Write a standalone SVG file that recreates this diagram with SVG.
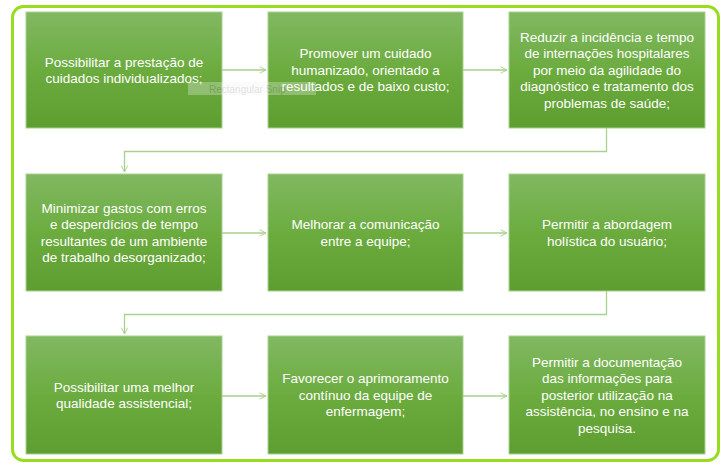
<svg xmlns="http://www.w3.org/2000/svg" width="726" height="473" viewBox="0 0 726 473">
<defs>
<linearGradient id="g" x1="0" y1="0" x2="0" y2="1">
<stop offset="0" stop-color="#81b862"/>
<stop offset="0.5" stop-color="#6cac3f"/>
<stop offset="1" stop-color="#5e9e30"/>
</linearGradient>
<marker id="ah" viewBox="0 0 10 10" refX="9" refY="5" markerWidth="8" markerHeight="8" markerUnits="userSpaceOnUse" orient="auto">
<path d="M1,1 L9,5 L1,9" fill="none" stroke="#a9d18e" stroke-width="1.2"/>
</marker>
<style>
.box{fill:url(#g);stroke:#a9d18e;stroke-width:1}
.t{font-family:"Liberation Sans",Arial,sans-serif;font-size:13.5px;fill:#ffffff;text-anchor:middle}
.c{fill:none;stroke:#a9d18e;stroke-width:1.3;marker-end:url(#ah)}
</style>
</defs>
<rect x="0" y="0" width="726" height="473" fill="#ffffff"/>
<rect x="12.5" y="6.5" width="706" height="454" rx="11" fill="none" stroke="#98dc1e" stroke-width="3"/>
<g id="connectors">
<path class="c" d="M222,70 H266"/>
<path class="c" d="M463,70 H507"/>
<path class="c" d="M606.5,128 V151.5 H124.5 V172"/>
<path class="c" d="M222,233 H266"/>
<path class="c" d="M463,233 H507"/>
<path class="c" d="M606.5,291 V314.5 H124.5 V334"/>
<path class="c" d="M222,396 H266"/>
<path class="c" d="M463,396 H507"/>
</g>
<g id="n1"><rect class="box" x="26" y="12" width="196" height="116"/>
<text class="t" x="124" y="66.5">Possibilitar a prestação de</text>
<text class="t" x="124" y="83">cuidados individualizados;</text></g>
<g id="n2"><rect class="box" x="268" y="12" width="195" height="116"/>
<text class="t" x="365.5" y="58.2">Promover um cuidado</text>
<text class="t" x="365.5" y="74.7">humanizado, orientado a</text>
<text class="t" x="365.5" y="91.2">resultados e de baixo custo;</text></g>
<g id="n3"><rect class="box" x="509" y="12" width="196" height="116"/>
<text class="t" x="607" y="41.7">Reduzir a incidência e tempo</text>
<text class="t" x="607" y="58.2">de internações hospitalares</text>
<text class="t" x="607" y="74.7">por meio da agilidade do</text>
<text class="t" x="607" y="91.2">diagnóstico e tratamento dos</text>
<text class="t" x="607" y="107.7">problemas de saúde;</text></g>
<g id="n4"><rect class="box" x="26" y="174" width="196" height="117"/>
<text class="t" x="124" y="212.9">Minimizar gastos com erros</text>
<text class="t" x="124" y="229.4">e desperdícios de tempo</text>
<text class="t" x="124" y="245.9">resultantes de um ambiente</text>
<text class="t" x="124" y="262.4">de trabalho desorganizado;</text></g>
<g id="n5"><rect class="box" x="268" y="174" width="195" height="117"/>
<text class="t" x="365.5" y="229.2">Melhorar a comunicação</text>
<text class="t" x="365.5" y="245.7">entre a equipe;</text></g>
<g id="n6"><rect class="box" x="509" y="174" width="196" height="117"/>
<text class="t" x="607" y="229.2">Permitir a abordagem</text>
<text class="t" x="607" y="245.7">holística do usuário;</text></g>
<g id="n7"><rect class="box" x="26" y="336" width="196" height="118"/>
<text class="t" x="124" y="391.5">Possibilitar uma melhor</text>
<text class="t" x="124" y="408">qualidade assistencial;</text></g>
<g id="n8"><rect class="box" x="268" y="336" width="195" height="118"/>
<text class="t" x="365.5" y="383.2">Favorecer o aprimoramento</text>
<text class="t" x="365.5" y="399.7">contínuo da equipe de</text>
<text class="t" x="365.5" y="416.2">enfermagem;</text></g>
<g id="n9"><rect class="box" x="509" y="336" width="196" height="118"/>
<text class="t" x="607" y="366.7">Permitir a documentação</text>
<text class="t" x="607" y="383.2">das informações para</text>
<text class="t" x="607" y="399.7">posterior utilização na</text>
<text class="t" x="607" y="416.2">assistência, no ensino e na</text>
<text class="t" x="607" y="432.7">pesquisa.</text></g>
<g id="ghost" opacity="0.3">
<rect x="188" y="82" width="128" height="13" fill="#f4f4f4"/>
<text x="209" y="92.5" font-family="'Liberation Sans',Arial,sans-serif" font-size="10px" fill="#9a9a9a">Rectangular Snip</text>
</g>
</svg>
